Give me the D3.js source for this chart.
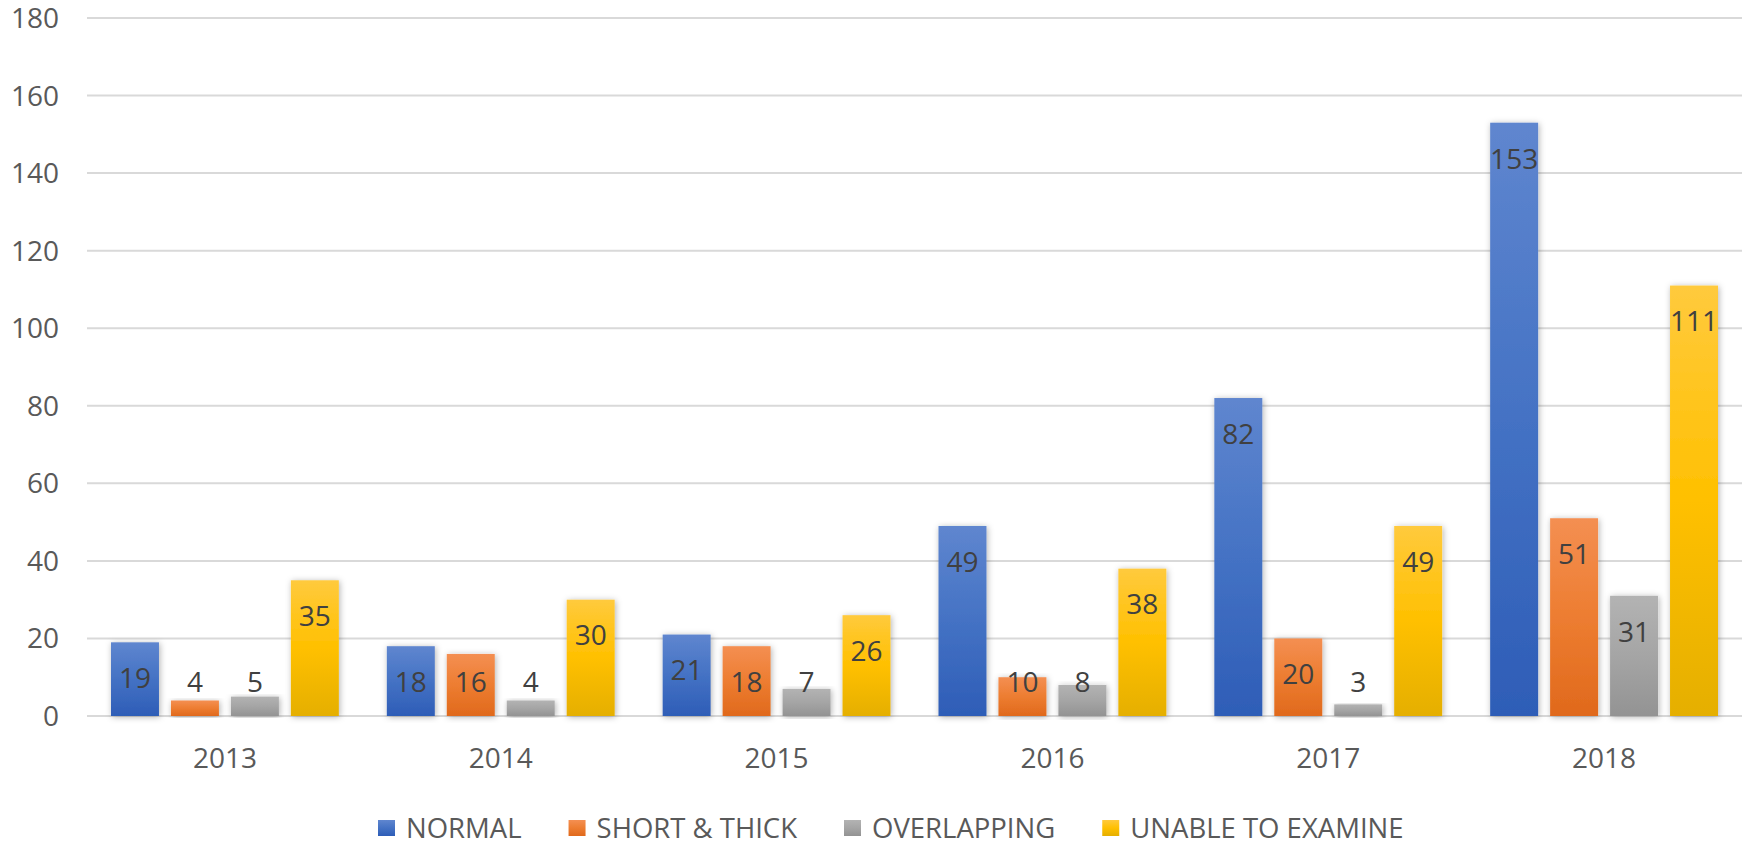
<!DOCTYPE html>
<html>
<head>
<meta charset="utf-8">
<script src="https://cdn.jsdelivr.net/npm/d3@7"></script>
<style>
  body { margin: 0; background: #fff; }
  text { font-family: "Open Sans", sans-serif; }
</style>
</head>
<body>
<div id="chart"></div>
<script>
var years = ["2013", "2014", "2015", "2016", "2017", "2018"];
var seriesNames = ["NORMAL", "SHORT & THICK", "OVERLAPPING", "UNABLE TO EXAMINE"];
var normal = [19, 18, 21, 49, 82, 153];
var shortThick = [4, 16, 18, 10, 20, 51];
var overlapping = [5, 4, 7, 8, 3, 31];
var unable = [35, 30, 26, 38, 49, 111];
var yTicks = [0, 20, 40, 60, 80, 100, 120, 140, 160, 180];

// top / middle / bottom of the excel style gradient
var colors = [
  ["#5f86cf", "#4472c4", "#2e5db7"],
  ["#f48f52", "#ed7d31", "#e0691c"],
  ["#b3b3b3", "#a5a5a5", "#939393"],
  ["#ffca3d", "#ffc000", "#e5af00"]
];

var values = [normal, shortThick, overlapping, unable];

var W = 1745, H = 847;

var svg = d3.select("#chart")
  .append("svg")
  .attr("width", W)
  .attr("height", H);

var defs = svg.append("defs");

colors.forEach(function(c, i) {
  var g = defs.append("linearGradient")
    .attr("id", "grad" + i)
    .attr("x1", 0).attr("y1", 0)
    .attr("x2", 0).attr("y2", 1);
  g.append("stop").attr("offset", "0%").attr("stop-color", c[0]);
  g.append("stop").attr("offset", "50%").attr("stop-color", c[1]);
  g.append("stop").attr("offset", "100%").attr("stop-color", c[2]);
});

defs.append("filter")
  .attr("id", "shadow")
  .attr("x", "-30%").attr("y", "-10%")
  .attr("width", "160%").attr("height", "120%")
  .append("feDropShadow")
  .attr("dx", 1).attr("dy", 1)
  .attr("stdDeviation", 3)
  .attr("flood-color", "#000")
  .attr("flood-opacity", 0.3);

var x0 = d3.scaleBand()
  .domain(years)
  .range([87, 1742]);

var x1 = d3.scaleBand()
  .domain(d3.range(seriesNames.length))
  .range([24, x0.bandwidth() - 24])
  .paddingInner(0.2);

var y = d3.scaleLinear()
  .domain([0, 180])
  .range([716, 18]);

// gridlines
svg.append("g")
  .selectAll("line")
  .data(yTicks)
  .join("line")
  .attr("x1", 87)
  .attr("x2", 1742)
  .attr("y1", function(d) { return y(d); })
  .attr("y2", function(d) { return y(d); })
  .attr("stroke", "#d9d9d9")
  .attr("stroke-width", 2);

// y labels
svg.append("g")
  .selectAll("text")
  .data(yTicks)
  .join("text")
  .attr("x", 59)
  .attr("y", function(d) { return y(d) + 10; })
  .attr("text-anchor", "end")
  .attr("font-size", 28)
  .attr("fill", "#595959")
  .text(function(d) { return d; });

// x labels
svg.append("g")
  .selectAll("text")
  .data(years)
  .join("text")
  .attr("x", function(d) { return x0(d) + x0.bandwidth() / 2; })
  .attr("y", 758)
  .attr("dy", "0.35em")
  .attr("text-anchor", "middle")
  .attr("font-size", 28)
  .attr("fill", "#595959")
  .text(function(d) { return d; });

// bars
var groups = svg.append("g")
  .selectAll("g")
  .data(years)
  .join("g")
  .attr("transform", function(d) { return "translate(" + x0(d) + ",0)"; });

var cells = groups.selectAll("g")
  .data(function(d, yi) {
    return values.map(function(v, si) { return { s: si, v: v[yi] }; });
  })
  .join("g");

cells.append("rect")
  .attr("x", function(d) { return x1(d.s); })
  .attr("y", function(d) { return y(d.v); })
  .attr("width", x1.bandwidth())
  .attr("height", function(d) { return y(0) - y(d.v); })
  .attr("fill", function(d) { return "url(#grad" + d.s + ")"; })
  .attr("filter", "url(#shadow)");

cells.append("text")
  .attr("x", function(d) { return x1(d.s) + x1.bandwidth() / 2; })
  .attr("y", function(d) { return Math.min(y(d.v) + 36, y(0) - 34); })
  .attr("dy", "0.35em")
  .attr("text-anchor", "middle")
  .attr("font-size", 28)
  .attr("fill", "#404040")
  .text(function(d) { return d.v; });

// legend
var legend = svg.append("g");
var lx = 378;
seriesNames.forEach(function(name, i) {
  var item = legend.append("g");
  item.append("rect")
    .attr("x", lx)
    .attr("y", 820)
    .attr("width", 17)
    .attr("height", 16)
    .attr("fill", "url(#grad" + i + ")");
  var t = item.append("text")
    .attr("x", lx + 28)
    .attr("y", 828)
    .attr("dy", "0.35em")
    .attr("font-size", 27.5)
    .attr("fill", "#595959")
    .text(name);
  lx += 28 + t.node().getComputedTextLength() + 47;
});
</script>
</body>
</html>
